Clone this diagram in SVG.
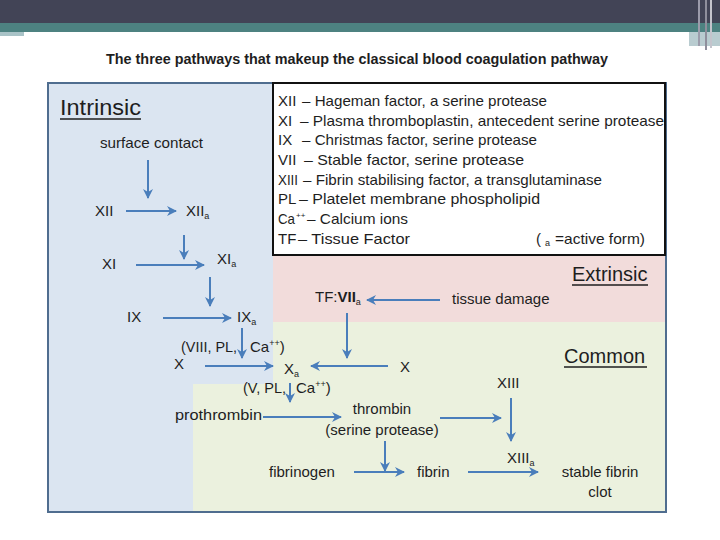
<svg xmlns="http://www.w3.org/2000/svg" width="720" height="540" viewBox="0 0 720 540">
<defs>
<style>
text{font-family:"Liberation Sans",Arial,sans-serif;fill:#1e1e1e;font-size:15px}
.ttl{font-weight:bold;font-size:14px}
.hd{font-size:22px}
.hd2{font-size:20px}
.lg{font-size:15px}
.sub{font-size:9px}
.sup{font-size:8px}
.con line{stroke:#4a7ebb;stroke-width:2;marker-end:url(#ah)}
.ul{stroke:#1e1e1e;stroke-width:1.5}
</style>
<marker id="ah" viewBox="0 0 10 10" refX="9" refY="5" markerWidth="5" markerHeight="5" orient="auto" markerUnits="strokeWidth">
<path d="M0,0 L10,5 L0,10 L3,5 Z" fill="#4a7ebb"/>
</marker>
</defs>
<rect x="0" y="0" width="720" height="540" fill="#ffffff"/>
<g id="header">
<rect x="0" y="0" width="720" height="23" fill="#424456"/>
<rect x="0" y="23" width="720" height="9" fill="#4d8281"/>
<rect x="0" y="32" width="24" height="4" fill="#a9c3c7"/>
<rect x="689" y="32" width="31" height="14" fill="#b9ccd0"/>
<rect x="698" y="0" width="2" height="46" fill="#9c9cab"/>
<rect x="705" y="0" width="2" height="50" fill="#8f8f9c"/>
<rect x="710" y="0" width="2" height="48" fill="#c4c4cc"/>
</g>
<text class="ttl" x="106" y="64" textLength="502" lengthAdjust="spacingAndGlyphs">The three pathways that makeup the classical blood coagulation pathway</text>
<g id="regions">
<path d="M49,84 H273 V384 H193 V511 H49 Z" fill="#dbe5f1"/>
<rect x="273" y="255" width="392" height="67" fill="#f2dcdb"/>
<path d="M273,322 H665 V511 H193 V384 H273 Z" fill="#ebf1de"/>
<rect x="48" y="83" width="618" height="429" fill="none" stroke="#4f6d8f" stroke-width="2"/>
</g>
<g id="legend">
<rect x="273" y="83" width="392" height="172" fill="#ffffff" stroke="#111111" stroke-width="2"/>
<text class="lg" x="278" y="106">XII</text><text class="lg" x="302" y="106" textLength="245" lengthAdjust="spacingAndGlyphs">– Hageman factor, a serine protease</text>
<text class="lg" x="278" y="126">XI</text><text class="lg" x="300" y="126" textLength="364" lengthAdjust="spacingAndGlyphs">– Plasma thromboplastin, antecedent serine protease</text>
<text class="lg" x="278" y="145">IX</text><text class="lg" x="302" y="145" textLength="235" lengthAdjust="spacingAndGlyphs">– Christmas factor, serine protease</text>
<text class="lg" x="278" y="165">VII</text><text class="lg" x="304" y="165" textLength="220" lengthAdjust="spacingAndGlyphs">– Stable factor, serine protease</text>
<text class="lg" x="278" y="185" textLength="20" lengthAdjust="spacingAndGlyphs">XIII</text><text class="lg" x="303" y="185" textLength="299" lengthAdjust="spacingAndGlyphs">– Fibrin stabilising factor, a transglutaminase</text>
<text class="lg" x="278" y="204">PL</text><text class="lg" x="299" y="204" textLength="241" lengthAdjust="spacingAndGlyphs">–  Platelet membrane phospholipid</text>
<text class="lg" x="278" y="224" textLength="17" lengthAdjust="spacingAndGlyphs">Ca</text><text class="sup" x="296" y="218">++</text><text class="lg" x="307" y="224" textLength="101" lengthAdjust="spacingAndGlyphs">– Calcium ions</text>
<text class="lg" x="278" y="244">TF</text><text class="lg" x="298" y="244" textLength="112" lengthAdjust="spacingAndGlyphs">–  Tissue Factor</text>
<text class="lg" x="536" y="244">(</text><text class="sub" x="545" y="246">a</text><text class="lg" x="555" y="244" textLength="90" lengthAdjust="spacingAndGlyphs">=active form)</text>
</g>
<g id="headings">
<text class="hd" x="60" y="115" textLength="81" lengthAdjust="spacingAndGlyphs">Intrinsic</text>
<line class="ul" x1="60" y1="119" x2="141" y2="119"/>
<text class="hd2" x="572" y="281">Extrinsic</text>
<line class="ul" x1="572" y1="285" x2="648" y2="285"/>
<text class="hd2" x="564" y="363">Common</text>
<line class="ul" x1="564" y1="367" x2="647" y2="367"/>
</g>
<g id="n-surface"><text x="100" y="148" textLength="103" lengthAdjust="spacingAndGlyphs">surface contact</text></g>
<g id="n-XII"><text x="95" y="216">XII</text></g>
<g id="n-XIIa"><text x="186" y="216">XII<tspan class="sub" dy="3">a</tspan></text></g>
<g id="n-XI"><text x="102" y="269">XI</text></g>
<g id="n-XIa"><text x="217" y="264">XI<tspan class="sub" dy="3">a</tspan></text></g>
<g id="n-IX"><text x="127" y="322">IX</text></g>
<g id="n-IXa"><text x="237" y="322">IX<tspan class="sub" dy="3">a</tspan></text></g>
<g id="n-cof1"><text x="181" y="352" textLength="56" lengthAdjust="spacingAndGlyphs">(VIII, PL,</text><text x="250" y="352">Ca<tspan class="sub" dy="-6">++</tspan><tspan dy="6">)</tspan></text></g>
<g id="n-X1"><text x="174" y="369">X</text></g>
<g id="n-Xa"><text x="284" y="374">X<tspan class="sub" dy="3">a</tspan></text></g>
<g id="n-cof2"><text x="243" y="393" textLength="43" lengthAdjust="spacingAndGlyphs">(V, PL,</text><text x="296" y="393">Ca<tspan class="sub" dy="-6">++</tspan><tspan dy="6">)</tspan></text></g>
<g id="n-X2"><text x="400" y="372">X</text></g>
<g id="n-TFVIIa"><text x="315" y="302">TF:<tspan font-weight="bold">VII</tspan><tspan class="sub" dy="3">a</tspan></text></g>
<g id="n-tissue"><text x="452" y="304">tissue damage</text></g>
<g id="n-prothrombin"><text x="175" y="420" textLength="87" lengthAdjust="spacingAndGlyphs">prothrombin</text></g>
<g id="n-thrombin"><text x="382" y="414" text-anchor="middle">thrombin</text><text x="382" y="435" text-anchor="middle">(serine protease)</text></g>
<g id="n-XIII"><text x="497" y="388">XIII</text></g>
<g id="n-XIIIa"><text x="507" y="463">XIII<tspan class="sub" dy="3">a</tspan></text></g>
<g id="n-fibrinogen"><text x="269" y="477">fibrinogen</text></g>
<g id="n-fibrin"><text x="417" y="477">fibrin</text></g>
<g id="n-clot"><text x="600" y="477" text-anchor="middle">stable fibrin</text><text x="600" y="497" text-anchor="middle">clot</text></g>
<g id="connectors" class="con">
<line x1="148" y1="160" x2="148" y2="198"/>
<line x1="126" y1="211" x2="176" y2="211"/>
<line x1="184" y1="235" x2="184" y2="259"/>
<line x1="136" y1="265" x2="204" y2="265"/>
<line x1="210" y1="277" x2="210" y2="306"/>
<line x1="163" y1="318" x2="231" y2="318"/>
<line x1="242" y1="328" x2="242" y2="358"/>
<line x1="205" y1="366" x2="273" y2="366"/>
<line x1="440" y1="300" x2="367" y2="300"/>
<line x1="347" y1="313" x2="347" y2="358"/>
<line x1="388" y1="366" x2="311" y2="366"/>
<line x1="290" y1="383" x2="290" y2="402"/>
<line x1="263" y1="417" x2="341" y2="417"/>
<line x1="440" y1="418" x2="501" y2="418"/>
<line x1="511" y1="398" x2="511" y2="441"/>
<line x1="385" y1="441" x2="385" y2="471"/>
<line x1="354" y1="472" x2="404" y2="472"/>
<line x1="468" y1="472" x2="538" y2="472"/>
</g>
</svg>
